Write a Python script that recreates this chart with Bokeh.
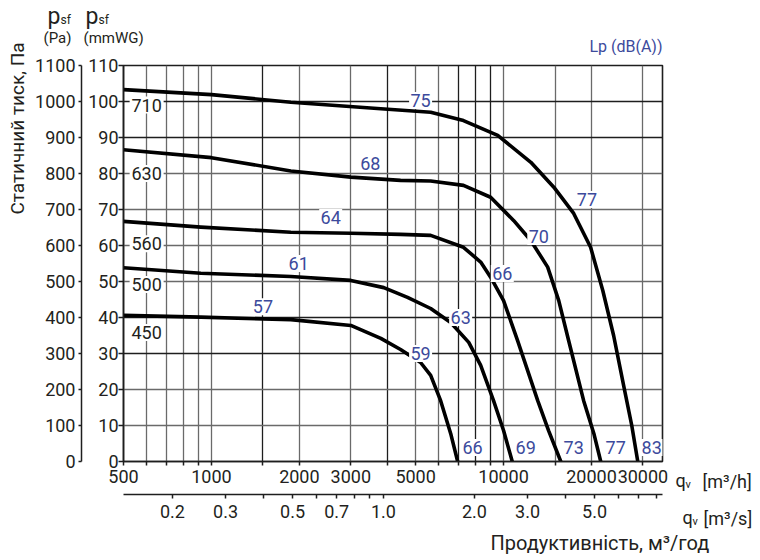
import math
from bokeh.plotting import figure
from bokeh.layouts import column, row
from bokeh.models import (Range1d, LogScale, LogAxis, LinearAxis, FixedTicker, Grid, ColumnDataSource)
from bokeh.core.properties import value
from bokeh.embed import file_html
from bokeh.resources import INLINE

# ---------------- data ----------------
# airflow q (m3/h) and static pressure (mmWG)
q_710 = [500, 1000, 1870, 3800, 5630, 7290, 9550, 12400, 14860, 17380, 19860, 21860, 23810, 25770, 27470, 28800]
p_710 = [103.3, 101.9, 99.8, 98.0, 97.0, 94.7, 90.6, 83.1, 76.2, 68.9, 59.5, 47.5, 35.0, 21.1, 10.0, 0]

q_630 = [500, 1000, 1870, 3000, 4440, 5630, 7290, 9030, 10840, 12390, 14160, 15450, 16700, 18800, 20370, 21510]
p_630 = [86.6, 84.4, 80.7, 79.0, 78.1, 77.9, 76.7, 73.4, 66.9, 61.4, 54.0, 44.7, 33.6, 16.9, 7.8, 0]

q_560 = [500, 920, 1870, 3000, 4440, 5630, 7290, 8350, 9030, 10000, 11170, 13090, 14260, 15700]
p_560 = [66.7, 65.1, 63.7, 63.4, 63.1, 62.8, 59.5, 55.4, 51.2, 44.7, 33.6, 16.9, 8.6, 0]

q_500 = [500, 920, 1870, 3000, 3890, 4690, 5630, 6590, 7600, 8350, 9240, 10000, 10710]
p_500 = [53.8, 52.3, 51.4, 50.3, 48.3, 45.6, 42.5, 38.6, 33.1, 26.7, 16.9, 8.6, 0]

q_450 = [500, 920, 1870, 3000, 3800, 4440, 5200, 5630, 6090, 6590, 6965]
p_450 = [40.6, 40.1, 39.4, 37.8, 34.2, 31.1, 27.5, 23.9, 16.9, 7.8, 0]

curves_q = [q_710, q_630, q_560, q_500, q_450]
curves_p = [p_710, p_630, p_560, p_500, p_450]

# impeller sizes, written on the 600 m3/h grid line
size_names = ["710", "630", "560", "500", "450"]
size_label_q = [600, 600, 600, 600, 600]
size_label_p = [99.0, 80.0, 60.5, 49.2, 35.8]

# sound levels Lp dB(A) along the curves
lp_text = ["75", "68", "64", "61", "57", "77", "70", "66", "63", "59", "66", "69", "73", "77", "83"]
lp_q = [5200, 3500, 2560, 1990, 1500, 19300, 13200, 9900, 7130, 5200, 7835, 11900, 17380, 24200, 32150]
lp_p = [100.3, 82.8, 67.8, 55.0, 43.0, 72.8, 62.5, 52.2, 40.0, 30.0, 3.9, 3.9, 3.9, 3.9, 3.9]

# axes ticks
grid_q_gray = [600, 700, 800, 900, 1000, 2000, 3000, 5000, 6000, 10000, 15000, 20000, 30000]
grid_q_dark = [1500, 4000, 7000, 8000, 9000]
q_ticks = [500, 600, 700, 800, 900, 1000, 1500, 2000, 3000, 4000, 5000, 6000, 7000, 8000, 9000,
           10000, 15000, 20000, 30000]
q_labels = {500: "500", 1000: "1000", 2000: "2000", 3000: "3000", 5000: "5000",
            10000: "10000", 20000: "20000", 30000: "30000"}
qs_ticks = [0.2, 0.3, 0.4, 0.5, 0.6, 0.7, 0.8, 0.9, 1, 2, 3, 4, 5, 6, 7, 8]
qs_labels = {0.2: "0.2", 0.3: "0.3", 0.5: "0.5", 0.7: "0.7", 1: "1.0", 2: "2.0", 3: "3.0", 5: "5.0"}
mm_ticks = list(range(0, 111, 10))
pa_ticks = list(range(0, 1101, 100))
grid_mm_dark = [30, 40, 90, 100]
grid_mm_gray = [10, 20, 50, 60, 70, 80]

# ---------------- styles / layout ----------------
FONT = "Roboto"
TXT = "#231f20"
BLUE = "#3c4a9c"
GRAY = "#6a6a6a"
DARK = "#1e1e1e"

W, H = 760, 560
FL, FR, FT, FB = 123, 662, 65, 461      # plot frame edges (page px)
HEAD_H, FOOT_H = 55, 30                 # header / footer strips
LEFT_W, RIGHT_X = 31, 672               # left strip width, start of right strip
MID_H = H - HEAD_H - FOOT_H
INNER_W = W - LEFT_W


def no_align(f):
    if "frame_align" in f.properties():
        f.frame_align = False
    return f


# ---------------- main chart ----------------
p = figure(width=RIGHT_X - LEFT_W, height=MID_H, x_axis_type="log", output_backend="svg",
           toolbar_location=None, x_range=Range1d(500, 35000), y_range=Range1d(0, 110),
           min_border_left=FL - LEFT_W, min_border_right=RIGHT_X - FR,
           min_border_top=FT - HEAD_H, min_border_bottom=HEAD_H + MID_H - FB)
no_align(p)
p.outline_line_color = DARK
p.outline_line_width = 1.6
p.xgrid.visible = False
p.ygrid.visible = False
p.background_fill_color = "white"
p.border_fill_color = "white"

for ticks, col, dim in [(grid_q_gray, GRAY, 0), (grid_q_dark, DARK, 0),
                        (grid_mm_gray, GRAY, 1), (grid_mm_dark, DARK, 1)]:
    p.add_layout(Grid(dimension=dim, ticker=FixedTicker(ticks=ticks), grid_line_color=col,
                      grid_line_width=1.3), "center")

p.extra_y_ranges = {"pa": Range1d(0, 1100)}
p.extra_x_ranges = {"ms": Range1d(10 ** ((FL - 383) / 302), 10 ** ((FR - 383) / 302))}
p.extra_x_scales = {"ms": LogScale()}


def style_axis(ax, size="18px"):
    ax.major_label_text_font = FONT
    ax.major_label_text_font_size = size
    ax.major_label_text_color = TXT
    ax.axis_line_color = DARK
    ax.axis_line_width = 1.5
    ax.major_tick_line_color = DARK
    ax.major_tick_line_width = 1.5
    ax.major_tick_in = 0
    ax.minor_tick_line_color = None


ya = p.yaxis[0]
ya.ticker = FixedTicker(ticks=mm_ticks)
style_axis(ya)
ya.major_tick_out = 5
ya.major_label_standoff = 0
ya.axis_label = " "
ya.axis_label_text_font_size = "1px"
ya.axis_label_standoff = 0

pa = LinearAxis(y_range_name="pa", ticker=FixedTicker(ticks=pa_ticks))
style_axis(pa)
pa.major_tick_out = 3
pa.major_label_standoff = 3
p.add_layout(pa, "left")

xa = p.xaxis[0]
xa.ticker = FixedTicker(ticks=q_ticks)
xa.major_label_overrides = {k: q_labels.get(k, "") for k in q_ticks}
style_axis(xa)
xa.major_tick_out = 4
xa.major_label_standoff = 4
xa.axis_label = " "
xa.axis_label_text_font_size = "1px"
xa.axis_label_standoff = 5

xs = LogAxis(x_range_name="ms", ticker=FixedTicker(ticks=qs_ticks))
xs.major_label_overrides = {k: qs_labels.get(k, "") for k in qs_ticks}
style_axis(xs)
xs.major_tick_out = 4
xs.major_label_standoff = 6
p.add_layout(xs, "below")

for qq, pp in zip(curves_q, curves_p):
    p.line(qq, pp, line_color="black", line_width=3.6, line_join="round", line_cap="round")

src_sizes = ColumnDataSource(dict(x=size_label_q, y=size_label_p, t=size_names))
p.rect("x", "y", width=34, height=17, width_units="screen", height_units="screen",
       source=src_sizes, fill_color="white", line_color=None)
p.text("x", "y", text="t", source=src_sizes, text_align="center", text_baseline="middle",
       text_font=value(FONT), text_font_size=value("18px"), text_color=TXT)

src_lp = ColumnDataSource(dict(x=lp_q, y=lp_p, t=lp_text))
p.rect("x", "y", width=23, height=17, width_units="screen", height_units="screen",
       source=src_lp, fill_color="white", line_color=None)
p.text("x", "y", text="t", source=src_lp, text_align="center", text_baseline="middle",
       text_font=value(FONT), text_font_size=value("18px"), text_color=BLUE)


# ---------------- text strips around the chart ----------------
def strip(w, h):
    f = figure(width=w, height=h, x_range=Range1d(0, w), y_range=Range1d(0, h),
               output_backend="svg", toolbar_location=None, min_border=0,
               x_axis_location=None, y_axis_location=None)
    no_align(f)
    f.outline_line_color = None
    f.grid.visible = False
    f.background_fill_color = "white"
    f.border_fill_color = "white"
    return f


def put(f, x0, y0, h, text, cx, cy, size, color=TXT, align="left", angle=0.0):
    f.text(x=[cx - x0], y=[h - (cy - y0)], text=[text], text_font=value(FONT),
           text_font_size=value(size), text_color=color, text_align=align,
           text_baseline="middle", angle=angle)


left = strip(LEFT_W, H)
put(left, 0, 0, H, "Статичний тиск, Па", 17, 128, "19px", align="center", angle=math.pi / 2)

head = strip(INNER_W, HEAD_H)
put(head, LEFT_W, 0, HEAD_H, "p", 47, 16, "23px")
put(head, LEFT_W, 0, HEAD_H, "sf", 60, 19, "12px")
put(head, LEFT_W, 0, HEAD_H, "(Pa)", 43, 37, "15px")
put(head, LEFT_W, 0, HEAD_H, "p", 85, 16, "23px")
put(head, LEFT_W, 0, HEAD_H, "sf", 98, 19, "12px")
put(head, LEFT_W, 0, HEAD_H, "(mmWG)", 83, 37, "15px")
put(head, LEFT_W, 0, HEAD_H, "Lp (dB(A))", 662, 46, "16px", color=BLUE, align="right")

right = strip(W - RIGHT_X, MID_H)
put(right, RIGHT_X, HEAD_H, MID_H, "q", 675, 480, "18px")
put(right, RIGHT_X, HEAD_H, MID_H, "v", 685, 484, "11px")
put(right, RIGHT_X, HEAD_H, MID_H, "[m³/h]", 702, 481, "18px")
put(right, RIGHT_X, HEAD_H, MID_H, "q", 682, 517, "18px")
put(right, RIGHT_X, HEAD_H, MID_H, "v", 692, 521, "11px")
put(right, RIGHT_X, HEAD_H, MID_H, "[m³/s]", 703, 518, "18px")

foot = strip(INNER_W, FOOT_H)
put(foot, LEFT_W, H - FOOT_H, FOOT_H, "Продуктивність, м³/год", 490, 542, "20px")

layout = row(left, column(head, row(p, right, spacing=0), foot, spacing=0), spacing=0)

open("out.html", "w").write(file_html(layout, INLINE))
